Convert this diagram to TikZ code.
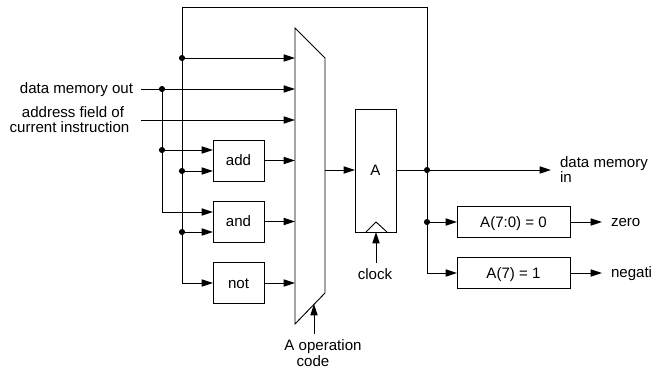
\documentclass[tikz,border=0pt]{standalone}
\usepackage{fontspec}
\setmainfont{Liberation Sans}
\usetikzlibrary{arrows.meta}
\tikzset{
    EMPTY/.style={inner sep=0mm, outer sep=0mm, anchor=base, font={\fontsize{11.3pt}{13pt}\selectfont}},
    BLACK_DOT/.style={inner sep=0mm, minimum size=4.6pt,
        outer sep=0mm, fill=black, shape=circle},
    BOX/.style={draw=black, shape=rectangle, inner sep=0mm, outer sep=0mm,
        text height=1.5ex, text depth=0pt,
        font={\fontsize{11.3pt}{13pt}\selectfont}, line width=0.7pt},
    LOGIC_BOX/.style={BOX, minimum width=38.25pt, minimum height=30.75pt},
    TEST_BOX/.style={BOX, minimum width=84.75pt, minimum height=23.25pt},
    EDGE/.style={draw=black, line width=0.7pt},
    ARROW_EDGE/.style={EDGE, -{Stealth[length=8.5pt, width=5.4pt, inset=0pt]}}
}
\pgfdeclarelayer{edgelayer}
\pgfdeclarelayer{nodelayer}
\pgfsetlayers{edgelayer,nodelayer,main}
\begin{document}
\begin{tikzpicture}[x=0.75pt, y=-0.75pt]
    \useasboundingbox (0, 0) rectangle (653, 369);
    \begin{pgfonlayer}{nodelayer}
        \node [BLACK_DOT] (1) at (182, 58) {};
        \node [BLACK_DOT] (2) at (162, 89) {};
        \node [BLACK_DOT] (3) at (162, 150) {};
        \node [BLACK_DOT] (4) at (182, 171) {};
        \node [BLACK_DOT] (5) at (182, 232) {};
        \node [BLACK_DOT] (6) at (427, 170) {};
        \node [BLACK_DOT] (7) at (427, 222) {};
        \node [LOGIC_BOX] (8) at (238.5, 160.5) {add};
        \node [LOGIC_BOX] (9) at (238.5, 221.5) {and};
        \node [LOGIC_BOX] (10) at (238.5, 283) {not};
        \node [BOX, minimum width=30.75pt, minimum height=92.25pt] (11) at (375.5, 170.5) {A};
        \node [TEST_BOX] (12) at (513.5, 222) {A(7:0) = 0};
        \node [TEST_BOX] (13) at (513.5, 273) {A(7) = 1};
        \coordinate (14) at (295, 28);
        \coordinate (15) at (325, 58);
        \coordinate (16) at (325, 293);
        \coordinate (17) at (295, 324);
        \coordinate (18) at (141, 89);
        \coordinate (19) at (141, 120);
        \coordinate (20) at (325, 170);
        \coordinate (21) at (551, 170);
        \coordinate (22) at (162, 212);
        \coordinate (23) at (182, 283);
        \coordinate (24) at (182, 7);
        \coordinate (25) at (427, 7);
        \coordinate (26) at (427, 273);
        \coordinate (27) at (376, 263);
        \coordinate (28) at (314, 334);
        \coordinate (29) at (314, 304);
        \coordinate (30) at (366, 232);
        \coordinate (31) at (376, 222);
        \coordinate (32) at (387, 232);
        \coordinate (33) at (602, 222);
        \coordinate (34) at (602, 273);
        \node [EMPTY, anchor=base east] (35) at (133, 93.5) {data memory out};
        \node [EMPTY] (36) at (73, 117) {address field of};
        \node [EMPTY] (37) at (69.5, 132) {current instruction};
        \node [EMPTY] (38) at (375, 279) {clock};
        \node [EMPTY] (39) at (323, 350.5) {A operation};
        \node [EMPTY] (40) at (313, 366) {code};
        \node [EMPTY, anchor=base west] (41) at (560, 167) {data memory};
        \node [EMPTY, anchor=base west] (42) at (560, 182.5) {in};
        \node [EMPTY, anchor=base west] (43) at (611, 226) {zero};
        \node [EMPTY, anchor=base west] (44) at (611, 277) {negati};
    \end{pgfonlayer}
    \begin{pgfonlayer}{edgelayer}
        \draw[EDGE] (14) to (15) to (16) to (17) to cycle;
        \draw[EDGE] (23) to (24) to (25) to (26);
        \draw[EDGE] (2) to (22);
        \draw[EDGE] (30) to (31) to (32);
        \draw[ARROW_EDGE] (1) to (1 -| 14);
        \draw[ARROW_EDGE] (18) to (18 -| 14);
        \draw[ARROW_EDGE] (19) to (19 -| 14);
        \draw[ARROW_EDGE] (8.east) to (8.east -| 14);
        \draw[ARROW_EDGE] (9.east) to (9.east -| 14);
        \draw[ARROW_EDGE] (10.east) to (10.east -| 14);
        \draw[ARROW_EDGE] (3) to (3 -| 8.west);
        \draw[ARROW_EDGE] (4) to (4 -| 8.west);
        \draw[ARROW_EDGE] (22) to (22 -| 9.west);
        \draw[ARROW_EDGE] (5) to (5 -| 9.west);
        \draw[ARROW_EDGE] (23) to (23 -| 10.west);
        \draw[ARROW_EDGE] (20) to (20 -| 11.west);
        \draw[ARROW_EDGE] (11.east |- 20) to (21);
        \draw[ARROW_EDGE] (27) to (27 |- 11.south);
        \draw[ARROW_EDGE] (28) to (29);
        \draw[ARROW_EDGE] (7) to (7 -| 12.west);
        \draw[ARROW_EDGE] (26) to (26 -| 13.west);
        \draw[ARROW_EDGE] (12.east) to (33);
        \draw[ARROW_EDGE] (13.east) to (34);
    \end{pgfonlayer}
\end{tikzpicture}
\end{document}
